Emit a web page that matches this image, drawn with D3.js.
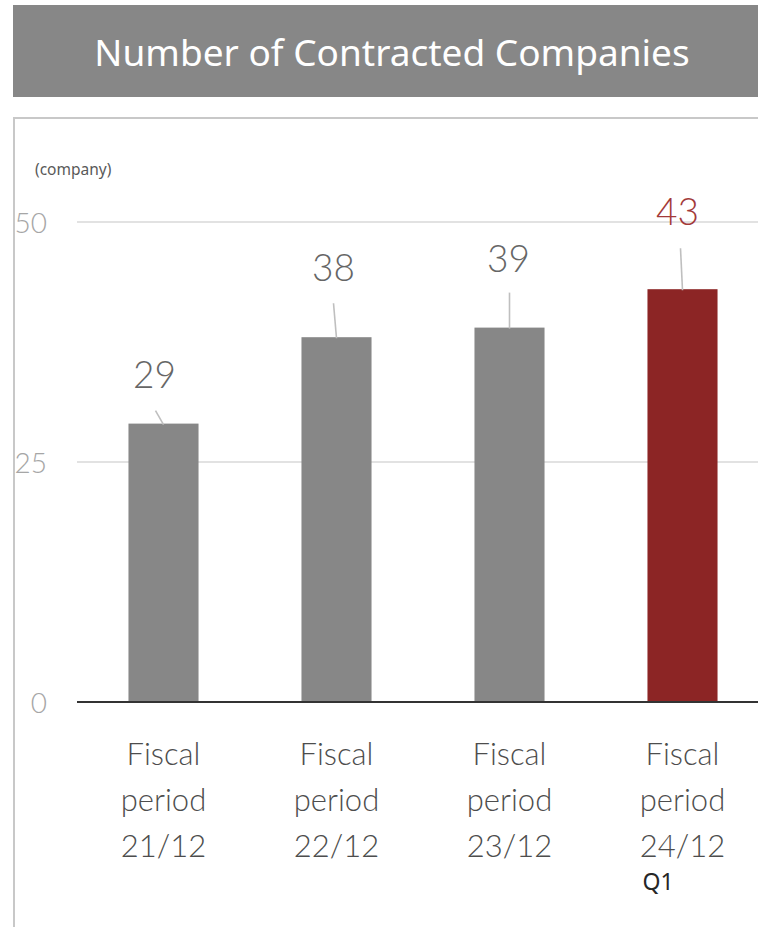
<!DOCTYPE html>
<html>
<head>
<meta charset="utf-8">
<script src="https://cdn.jsdelivr.net/npm/d3@7"></script>
<style>
  html, body { margin: 0; padding: 0; background: #fff; }
  svg { display: block; }
</style>
</head>
<body>
<svg id="chart" width="758" height="927"></svg>
<script>
// Data
const categories = ["21/12", "22/12", "23/12", "24/12"];
const values = [29, 38, 39, 43];
const categoryLines = ["Fiscal", "period"];
const quarterNote = ["", "", "", "Q1"];
const yTicks = [0, 25, 50];
const highlightIndex = 3;

// Layout of value labels relative to the top-centre of each bar
const labelShift = [
  { dx: -9, dy: -36, lx: -8, ly: -13 },
  { dx: -3, dy: -56, lx: -3, ly: -34 },
  { dx: -1, dy: -56, lx: 0, ly: -35 },
  { dx: -5, dy: -64, lx: -2, ly: -41 }
];

const svg = d3.select("#chart");
const W = 758, H = 927;

const GREY = "#878787";
const RED = "#8c2525";
const LIGHT = "'Lato', 'Noto Sans', sans-serif";
const SANS = "'Noto Sans', 'Open Sans', sans-serif";

// Title band
svg.append("rect")
  .attr("x", 13).attr("y", 5)
  .attr("width", W - 13 + 10).attr("height", 92)
  .attr("fill", GREY);
svg.append("text")
  .attr("x", 392).attr("y", 66)
  .attr("text-anchor", "middle")
  .attr("fill", "#fff")
  .style("font-family", SANS)
  .style("font-size", "37px")
  .text("Number of Contracted Companies");

// Chart frame
svg.append("rect")
  .attr("x", 14).attr("y", 118)
  .attr("width", W).attr("height", H)
  .attr("fill", "none")
  .attr("stroke", "#c8c8c8")
  .attr("stroke-width", 2);

// Scales
const x = d3.scaleBand()
  .domain(categories)
  .range([77, 769])
  .paddingInner(0.595)
  .paddingOuter(0.2975);

const y = d3.scaleLinear()
  .domain([0, 50])
  .range([702, 222]);

// Grid lines
svg.append("g")
  .selectAll("line")
  .data(yTicks.filter(d => d > 0))
  .join("line")
  .attr("x1", 77).attr("x2", 769)
  .attr("y1", d => y(d)).attr("y2", d => y(d))
  .attr("stroke", "#d9d9d9")
  .attr("stroke-width", 1.5);

// Y axis tick labels
const yAxis = d3.axisLeft(y).tickValues(yTicks).tickSize(0).tickPadding(0);
const gy = svg.append("g").attr("transform", "translate(47,0)").call(yAxis);
gy.select(".domain").remove();
gy.selectAll("text")
  .attr("fill", "#a6a6a6")
  .attr("dy", "0.36em")
  .style("font-family", LIGHT)
  .style("font-weight", 300)
  .style("font-size", "28px");

// Unit label
svg.append("text")
  .attr("x", 35).attr("y", 175)
  .attr("fill", "#595959")
  .style("font-family", SANS)
  .style("font-size", "15.5px")
  .text("(company)");

// Bars
svg.append("g")
  .selectAll("rect")
  .data(values)
  .join("rect")
  .attr("x", (d, i) => x(categories[i]))
  .attr("y", d => y(d))
  .attr("width", x.bandwidth())
  .attr("height", d => y(0) - y(d))
  .attr("fill", (d, i) => i === highlightIndex ? RED : GREY);

// Baseline
svg.append("line")
  .attr("x1", 77).attr("x2", 769)
  .attr("y1", y(0)).attr("y2", y(0))
  .attr("stroke", "#333")
  .attr("stroke-width", 2);

// Leader lines and value labels
const cx = i => x(categories[i]) + x.bandwidth() / 2;
svg.append("g")
  .selectAll("line")
  .data(values)
  .join("line")
  .attr("x1", (d, i) => cx(i) + labelShift[i].lx)
  .attr("y1", (d, i) => y(d) + labelShift[i].ly)
  .attr("x2", (d, i) => cx(i))
  .attr("y2", d => y(d) + 1)
  .attr("stroke", "#bfbfbf")
  .attr("stroke-width", 1.6);

svg.append("g")
  .selectAll("text")
  .data(values)
  .join("text")
  .attr("x", (d, i) => cx(i) + labelShift[i].dx)
  .attr("y", (d, i) => y(d) + labelShift[i].dy)
  .attr("text-anchor", "middle")
  .attr("fill", (d, i) => i === highlightIndex ? "#a33a3a" : "#666")
  .style("font-family", LIGHT)
  .style("font-weight", 300)
  .style("font-size", "37px")
  .text(d => d);

// Category labels
const xl = svg.append("g");
categories.forEach((c, i) => {
  const lines = [...categoryLines, c];
  const t = xl.append("text")
    .attr("text-anchor", "middle")
    .attr("fill", "#4d4d4d")
    .style("font-family", LIGHT)
    .style("font-weight", 300)
    .style("font-size", "31px");
  lines.forEach((s, k) => {
    t.append("tspan")
      .attr("x", cx(i))
      .attr("y", 765 + k * 46)
      .text(s);
  });
  if (quarterNote[i]) {
    xl.append("text")
      .attr("x", cx(i) - 40)
      .attr("y", 890)
      .attr("fill", "#262626")
      .style("font-family", SANS)
      .style("font-size", "23px")
      .text(quarterNote[i]);
  }
});
</script>
</body>
</html>
